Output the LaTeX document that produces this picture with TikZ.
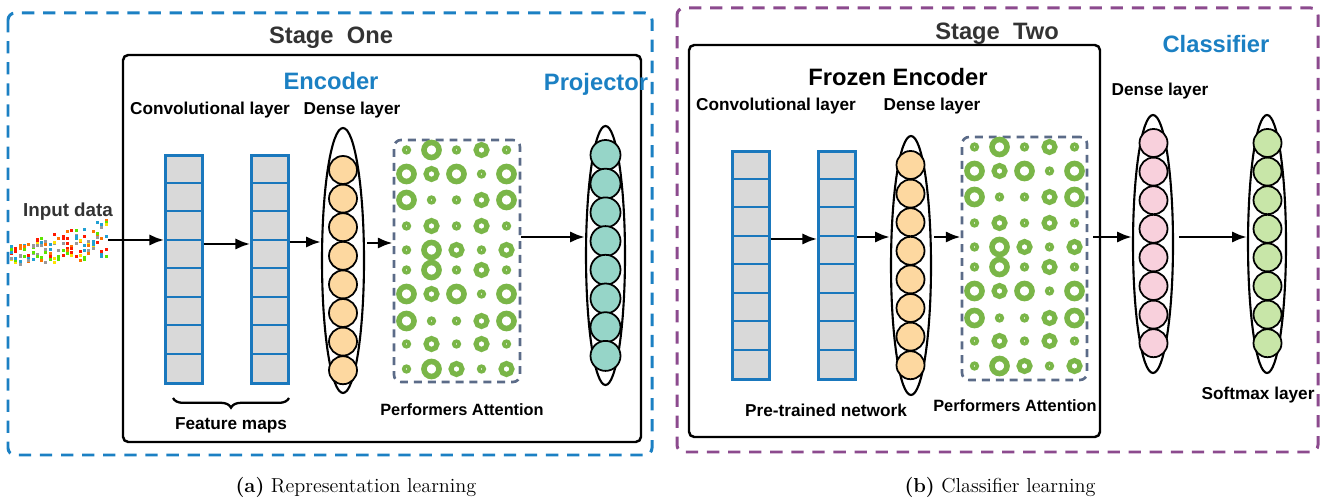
\documentclass[tikz,border=0pt]{standalone}
\usepackage{fontspec}
\newfontfamily\lsans{Liberation Sans}
\usetikzlibrary{shapes.geometric,decorations.pathreplacing,arrows.meta}
\newlength\pxu \setlength\pxu{0.02cm}
\definecolor{stblue}{HTML}{1B80C3}
\definecolor{stpurple}{HTML}{8C4A8E}
\definecolor{mapblue}{HTML}{1A78BD}
\definecolor{mapgrey}{HTML}{D9D9D9}
\definecolor{attgrey}{HTML}{5B6B88}
\definecolor{ringgreen}{HTML}{7AB648}
\definecolor{peach}{HTML}{FDD8A0}
\definecolor{projteal}{HTML}{96D5C8}
\definecolor{denpink}{HTML}{F8D0DC}
\definecolor{softgreen}{HTML}{C8E6A8}
\definecolor{txtgrey}{HTML}{333333}
\tikzset{
  every node/.style={inner sep=0pt},
  lbl/.style={font=\lsans\bfseries\fontsize{9.8}{12}\selectfont},
  head/.style={font=\lsans\bfseries\fontsize{13.5}{16}\selectfont},
  captxt/.style={font=\fontsize{11.5}{14}\selectfont},
  stagebox/.style={line width=1.7pt, dash pattern=on 7pt off 5pt, rounded corners=4pt},
  encbox/.style={draw, line width=1.4pt, rounded corners=3pt},
  fmap/.style={draw=mapblue, fill=mapgrey, line width=1.4pt, minimum width=37\pxu, minimum height=228\pxu},
  bag/.style={ellipse, draw, line width=1.2pt},
  neuron/.style={circle, draw, line width=1pt, minimum size=28\pxu},
  attbox/.style={draw=attgrey, line width=1.5pt, dash pattern=on 4.5pt off 3.4pt, rounded corners=4pt},
  ringS/.style={circle, draw=ringgreen, line width=2.1pt, minimum size=5.5\pxu},
  ringM/.style={circle, draw=ringgreen, line width=2.9pt, minimum size=11\pxu},
  ringL/.style={circle, draw=ringgreen, line width=3.2pt, minimum size=15\pxu},
  conn/.style={->, line width=1.6pt},
  dot0/.style={fill=orange!90!red},
  dot1/.style={fill=gray!80},
  dot2/.style={fill=green!60!yellow!90!black},
  dot3/.style={fill=cyan!70!teal},
  dot4/.style={fill=red!80!orange},
  dot5/.style={fill=yellow!85!orange},
}
\begin{document}
\begin{tikzpicture}[>={Latex[length=8.5pt,width=6.5pt]},x=1\pxu,y=-1\pxu]
		\useasboundingbox (0,0) rectangle (1324,502);
		% stage frames
		\draw[stagebox, stblue] (8,13) rectangle (652,455);
		\draw[stagebox, stpurple] (677,8) rectangle (1318,452);
		\draw[encbox] (123,55) rectangle (641,442);
		\draw[encbox] (689,45) rectangle (1100,437);
		% titles
		\node[head, txtgrey] (stgA) at (331,38) {Stage\ \ One};
		\node[head, stblue] (encA) at (331,81) {Encoder};
		\node[head, stblue] (projA) at (596,84) {Projector};
		\node[head, txtgrey] (stgB) at (997,34) {Stage\ \ Two};
		\node[head, stblue] (clsB) at (1216,44) {Classifier};
		\node[head] (frzB) at (898,77) {Frozen Encoder};
		\node[lbl] (convA) at (210,110) {Convolutional layer};
		\node[lbl] (dnsA) at (352,110) {Dense layer};
		\node[lbl] (convB) at (776,106) {Convolutional layer};
		\node[lbl] (dnsB) at (932,106) {Dense layer};
		\node[lbl] (dnsC) at (1160,91) {Dense layer};
		\node[lbl] (softC) at (1258,395) {Softmax layer};
		\node[lbl, font=\lsans\bfseries\fontsize{10.7}{12}\selectfont, txtgrey] (inA) at (68,212) {Input data};
		\node[lbl] (featA) at (231,425) {Feature maps};
		\node[lbl, font=\lsans\bfseries\fontsize{9.3}{11}\selectfont] (perfA) at (462,410) {Performers Attention};
		\node[lbl] (preB) at (826,410) {Pre-trained network};
		\node[lbl, font=\lsans\bfseries\fontsize{9.3}{11}\selectfont] (perfB) at (1015,406) {Performers Attention};
		\node[captxt] (capA) at (356,487) {\textbf{(a)} Representation learning};
		\node[captxt] (capB) at (1000,487) {\textbf{(b)} Classifier learning};
		% input data
		\pgfmathsetseed{11}
		\foreach \i in {0,...,22}{
			\foreach \j in {1,...,6}{
				\pgfmathsetmacro\ytop{246-26*\i/22}
				\pgfmathsetmacro\ybot{266-7*\i/22}
				\pgfmathsetmacro\yy{\ytop+rnd*(\ybot-\ytop)}
				\pgfmathtruncatemacro\cc{int(5.99*rnd)}
				\fill[dot\cc] (10+4.3*\i,\yy-1.5) rectangle ++(3,3);
			}
		}
		\coordinate (indata) at (108,240);
		% feature maps
		\node[fmap] (fmA1) at (184,269.5) {};
		\node[fmap] (fmA2) at (270,269.5) {};
		\node[fmap] (fmB1) at (751,265.5) {};
		\node[fmap] (fmB2) at (837,265.5) {};
		\foreach \m in {fmA1,fmA2,fmB1,fmB2}
			\foreach \i in {1,...,7}
				\draw[mapblue, line width=1.4pt] (\m.north west) ++(0,28.5*\i) -- ++(37,0);
		\draw[decorate, decoration={brace, mirror, amplitude=5.5pt}, line width=1.3pt] (173,398) -- (289,398);
		% dense layers
		\node[bag, minimum width=42\pxu, minimum height=265\pxu] (denA) at (343,260.5) {};
		\foreach \i in {0,...,7} \node[neuron, fill=peach] at (343,170+28.6*\i) {};
		\node[bag, minimum width=39\pxu, minimum height=259\pxu] (prjA) at (605.5,255.5) {};
		\foreach \i in {0,...,7} \node[neuron, fill=projteal, minimum size=30\pxu] at (605.5,155+28.7*\i) {};
		\node[bag, minimum width=40\pxu, minimum height=259\pxu] (denB) at (911,265.5) {};
		\foreach \i in {0,...,7} \node[neuron, fill=peach] at (910.5,165+28.6*\i) {};
		\node[bag, minimum width=40\pxu, minimum height=258\pxu] (denC) at (1153,244) {};
		\foreach \i in {0,...,7} \node[neuron, fill=denpink] at (1153.5,143+28.6*\i) {};
		\node[bag, minimum width=38\pxu, minimum height=258\pxu] (sftC) at (1267,244) {};
		\foreach \i in {0,...,7} \node[neuron, fill=softgreen] at (1267.5,143+28.6*\i) {};
		% performers attention
		\node[attbox, minimum width=126\pxu, minimum height=242\pxu] (attA) at (457,261) {};
		\node[attbox, minimum width=125\pxu, minimum height=243\pxu] (attB) at (1024.5,258.5) {};
		\foreach \bx/\by in {394/140, 962/137}{
			\foreach \ry/\pat in {10/{S,L,S,M,S}, 34/{L,M,L,S,L}, 60/{L,S,S,M,L}, 86/{S,M,S,M,S}, 110/{S,L,M,S,M},
			                      130/{S,L,S,M,S}, 154/{L,M,L,S,L}, 181/{L,S,S,M,L}, 204/{S,M,S,M,S}, 229/{S,L,M,S,M}}{
				\foreach \s [count=\k] in \pat
					\node[ring\s] at (\bx+25*\k-12.5,\by+\ry) {};
			}
		}
		% connectors
		\draw[conn] (indata) -- (fmA1.west |- indata);
		\draw[conn] (fmA1.east |- 0,244) -- (fmA2.west |- 0,244);
		\draw[conn] (fmA2.east |- 0,242) -- (denA.west |- 0,242);
		\draw[conn] ([xshift=2\pxu]denA.east |- 0,243) -- (attA.west |- 0,243);
		\draw[conn] (attA.east |- 0,237) -- (prjA.west |- 0,237);
		\draw[conn] (fmB1.east |- 0,239) -- (fmB2.west |- 0,239);
		\draw[conn] (fmB2.east |- 0,237) -- (denB.west |- 0,237);
		\draw[conn] ([xshift=2\pxu]denB.east |- 0,237) -- (attB.west |- 0,237);
		\draw[conn] ([xshift=5\pxu]attB.east |- 0,237) -- (denC.west |- 0,237);
		\draw[conn] ([xshift=5\pxu]denC.east |- 0,237) -- (sftC.west |- 0,237);
	\end{tikzpicture}
\end{document}
